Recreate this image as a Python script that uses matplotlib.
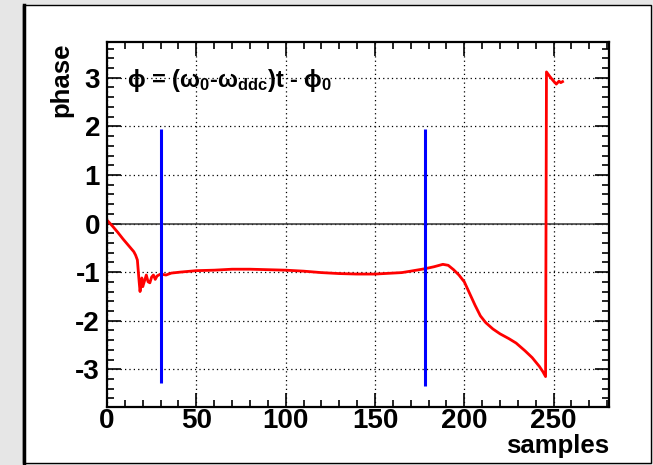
import matplotlib
matplotlib.use('Agg')
import matplotlib.pyplot as plt
from matplotlib.patches import Rectangle
from matplotlib.lines import Line2D
from matplotlib.ticker import MultipleLocator

plt.rcParams['font.family'] = ['Liberation Sans', 'DejaVu Sans']
plt.rcParams['font.weight'] = 'bold'
plt.rcParams['axes.unicode_minus'] = False
plt.rcParams['mathtext.fontset'] = 'custom'
plt.rcParams['mathtext.rm'] = 'Liberation Sans:bold'
plt.rcParams['mathtext.it'] = 'Liberation Sans:bold'
plt.rcParams['mathtext.bf'] = 'Liberation Sans:bold'

# phase of the down-converted signal vs sample index
samples = [0, 3, 6, 9, 12, 15, 16, 17, 18, 18.5, 19, 19.5, 20, 21, 22, 23, 24,
           25, 26, 27, 28, 30, 33, 36, 41, 50, 60, 70, 80, 90, 100, 110, 120,
           130, 140, 150, 160, 165, 170, 178, 183, 188, 191, 194, 197, 200,
           203, 206, 209, 212, 216, 220, 225, 229, 234, 238, 242, 244, 245.5,
           246, 248, 250, 251.5, 253, 254, 255]
phase = [0.07, -0.05, -0.18, -0.32, -0.45, -0.58, -0.65, -0.75, -1.20, -1.40,
         -1.25, -1.12, -1.30, -1.18, -1.06, -1.20, -1.22, -1.10, -1.06, -1.15,
         -1.08, -1.04, -1.06, -1.02, -1.00, -0.97, -0.96, -0.94, -0.94, -0.95,
         -0.96, -0.98, -1.01, -1.03, -1.04, -1.04, -1.02, -1.01, -0.98, -0.93,
         -0.89, -0.84, -0.86, -0.95, -1.06, -1.20, -1.44, -1.68, -1.90, -2.04,
         -2.17, -2.27, -2.37, -2.46, -2.62, -2.76, -2.94, -3.05, -3.15, 3.12,
         3.02, 2.93, 2.87, 2.93, 2.90, 2.92]

# window markers
marker_x = [30, 178]
marker_top = [1.95, 1.95]
marker_bottom = [-3.28, -3.35]

fig = plt.figure(figsize=(6.53, 4.65), dpi=100, facecolor='#e6e6e6')
# canvas pad, kept behind the axes
fig.patches.append(Rectangle((23 / 653, 2 / 465), 628 / 653, 458 / 465,
                             transform=fig.transFigure, facecolor='white',
                             edgecolor='black', lw=1, zorder=-10))
fig.lines.append(Line2D([23.5 / 653, 23.5 / 653], [2 / 465, 460 / 465],
                        transform=fig.transFigure, color='black', lw=2.5,
                        zorder=-9))

ax = fig.add_axes([107 / 653, 1 - 406.7 / 465, 502 / 653, 364.4 / 465])
ax.set_xlim(0, 281)
ax.set_ylim(-3.77, 3.73)

ax.xaxis.set_major_locator(MultipleLocator(50))
ax.xaxis.set_minor_locator(MultipleLocator(10))
ax.yaxis.set_major_locator(MultipleLocator(1))
ax.yaxis.set_minor_locator(MultipleLocator(0.2))
ax.tick_params(which='both', direction='in', top=True, right=True,
               width=1.2, labelsize=20)
ax.tick_params(which='major', length=10)
ax.tick_params(which='minor', length=5)
ax.tick_params(axis='x', which='major', pad=1)
ax.tick_params(axis='y', which='major', pad=5)
for lab in ax.get_xticklabels() + ax.get_yticklabels():
    lab.set_fontweight('bold')
for s in ax.spines.values():
    s.set_linewidth(1.6)

ax.grid(True, which='major', color='black', linestyle=(0, (1, 2.5)), lw=0.9)
ax.axhline(0, color='#333333', lw=1.1)

ax.plot(samples, phase, color='red', lw=2)
ax.vlines(marker_x, marker_bottom, marker_top, color='blue', lw=2.2)

ax.text(11, 2.95, r'$\phi$ = ($\omega_0$-$\omega_{ddc}$)t - $\phi_0$',
        fontsize=17, fontweight='bold', ha='left', va='center')

ax.set_ylabel('phase', fontsize=18.5, fontweight='bold', loc='top')
ax.yaxis.set_label_coords(-0.068, 1.0)
ax.set_xlabel('samples', fontsize=18.5, fontweight='bold', loc='right')
ax.xaxis.set_label_coords(1.0, -0.076)

fig.savefig('out.png', dpi=100, facecolor=fig.get_facecolor())
